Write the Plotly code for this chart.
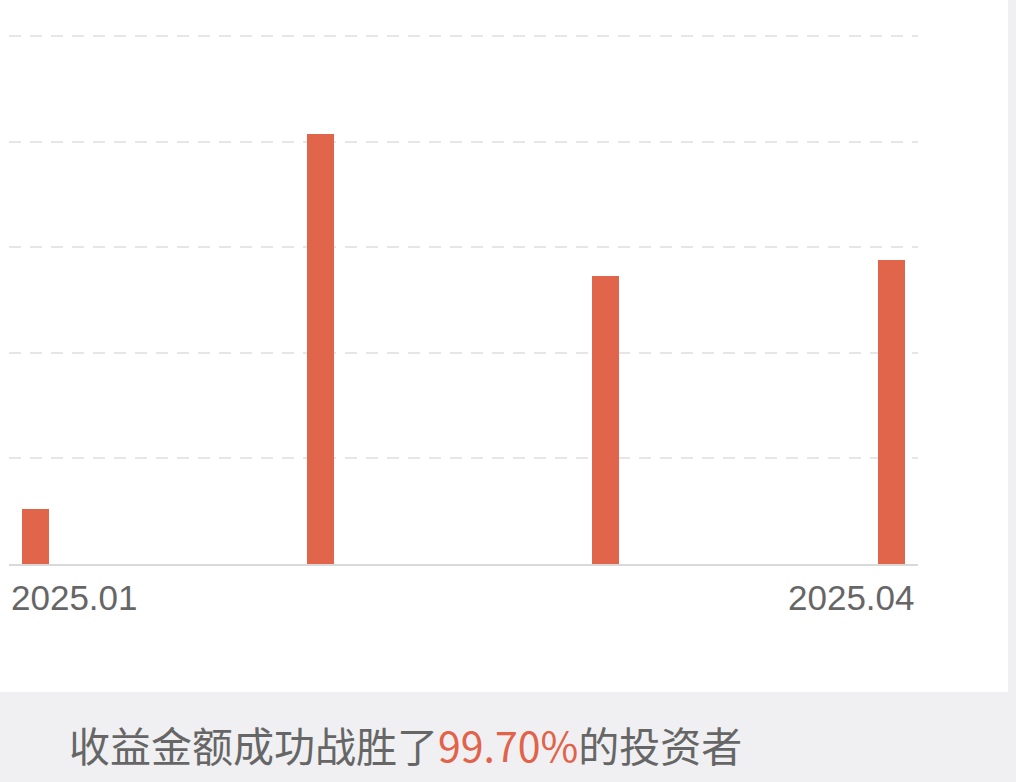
import plotly.graph_objects as go

months = ["2025.01", "2025.02", "2025.03", "2025.04"]
values = [0.52, 4.07, 2.73, 2.88]
tick_labels = ["2025.01", "2025.04"]
summary_prefix = "收益金额成功战胜了"
summary_pct = "99.70%"
summary_suffix = "的投资者"

BAR = "#e0654a"
W, H = 1016, 782
L, R, T, B = 9, 98, 34, 218
pw, ph = W - L - R, H - T - B
YMAX = 5 + 2 / 105.6

def px(x):
    return (x - L) / pw

def py(y):
    return (H - B - y) / ph

fig = go.Figure()
fig.add_trace(go.Bar(x=months, y=values, marker=dict(color=BAR, line=dict(width=0)),
                     width=0.0946, hoverinfo="skip"))

# white card over gray background
fig.add_shape(type="rect", xref="paper", yref="paper", x0=px(-5), x1=px(1008), y0=py(692), y1=py(-5),
              fillcolor="white", line=dict(width=0), layer="below")

fig.add_annotation(text=tick_labels[0], xref="paper", yref="paper", x=0, y=py(597),
                   xanchor="left", yanchor="middle", showarrow=False,
                   font=dict(family="Liberation Sans, Arial", size=35, color="#666666"))
fig.add_annotation(text=tick_labels[1], xref="paper", yref="paper", x=px(917), y=py(597),
                   xanchor="right", yanchor="middle", showarrow=False,
                   font=dict(family="Liberation Sans, Arial", size=35, color="#666666"))
fig.add_annotation(text=summary_prefix + '<span style="color:#e0634a">' + summary_pct + '</span>' + summary_suffix,
                   xref="paper", yref="paper", x=px(67), y=py(744),
                   xanchor="left", yanchor="middle", showarrow=False,
                   font=dict(family="Noto Sans CJK SC", size=41, color="#666666"))

fig.update_layout(
    width=W, height=H, margin=dict(l=L, r=R, t=T, b=B, pad=0),
    paper_bgcolor="#f0f0f2", plot_bgcolor="rgba(0,0,0,0)",
    showlegend=False, bargap=0,
    xaxis=dict(type="category", range=[-0.092, 3.094], showticklabels=False, showgrid=False,
               ticks="", showline=True, linecolor="#d9d9d9", linewidth=2, fixedrange=True),
    yaxis=dict(range=[0, YMAX], tickmode="linear", tick0=0, dtick=1, showticklabels=False,
               showgrid=True, gridcolor="#e6e6e6", gridwidth=2, griddash="12px,9px",
               zeroline=False, ticks="", fixedrange=True),
)

fig.write_html("out.html", config={"displayModeBar": False},
               post_script="document.body.style.margin='0';document.body.style.background='#f0f0f2';")
